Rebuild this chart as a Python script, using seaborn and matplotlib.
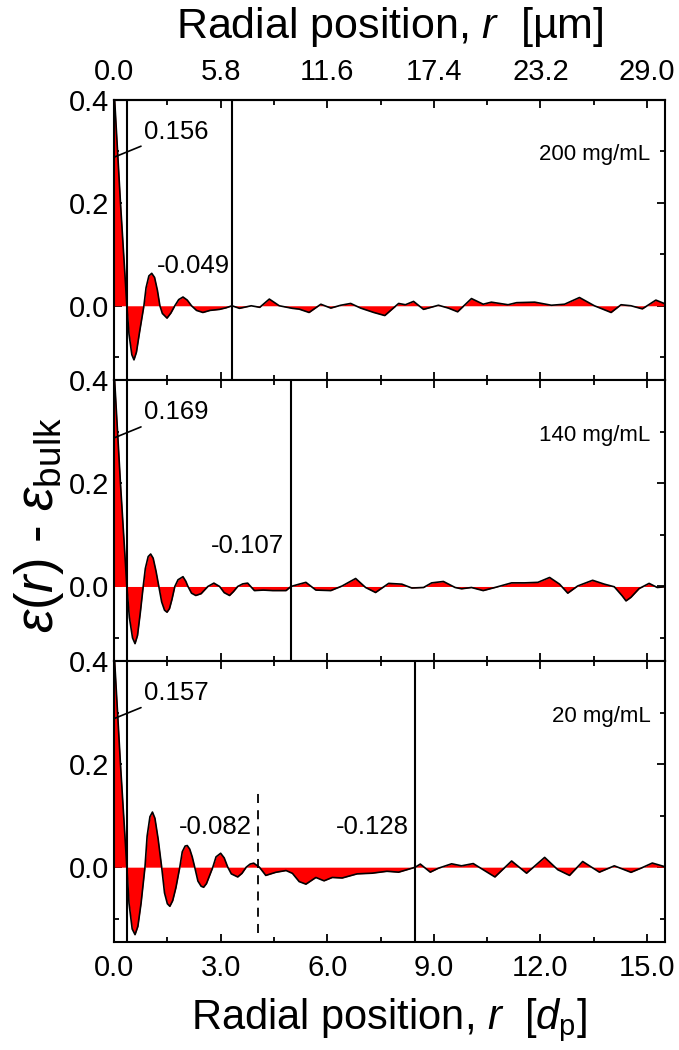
import numpy as np
import pandas as pd
import matplotlib
matplotlib.use('Agg')
import matplotlib.pyplot as plt
import seaborn as sb

# datos (r en d_p, eps(r) - eps_bulk)
x_200 = [0, 0.18, 0.36, 0.42, 0.50, 0.56, 0.63, 0.72, 0.84, 0.90, 0.98, 1.06, 1.14, 1.22, 1.29,
         1.36, 1.49, 1.60, 1.71, 1.82, 1.94, 2.06, 2.18, 2.32, 2.50, 2.70, 2.97, 3.15, 3.32,
         3.53, 3.86, 4.10, 4.37, 4.65, 5.02, 5.21, 5.49, 5.82, 6.10, 6.38, 6.66, 6.94, 7.31,
         7.62, 8.01, 8.20, 8.43, 8.71, 9.13, 9.41, 9.67, 10.06, 10.39, 10.62, 11.09, 11.33,
         11.84, 12.31, 12.68, 13.10, 13.52, 13.99, 14.27, 14.55, 14.87, 15.25, 15.5]
y_200 = [0.42, 0.20, 0.0, -0.055, -0.095, -0.105, -0.09, -0.05, 0.0, 0.035, 0.058, 0.063, 0.055,
         0.03, 0.0, -0.015, -0.024, -0.014, 0.0, 0.012, 0.017, 0.011, 0.0, -0.009, -0.013,
         -0.009, -0.007, -0.004, 0.0, -0.005, 0.0, -0.003, 0.013, 0.0, -0.005, -0.0065, -0.013,
         0.003, -0.0045, 0.001, 0.0045, -0.0045, -0.013, -0.019, 0.0045, 0.002, 0.0085, -0.007,
         0.001, -0.0045, -0.0117, 0.014, 0.003, 0.007, 0.002, 0.006, 0.007, 0.001, 0.003, 0.016,
         0.0, -0.013, 0.002, 0.0, -0.006, 0.011, 0.004]

x_140 = [0, 0.18, 0.36, 0.43, 0.52, 0.59, 0.66, 0.74, 0.82, 0.88, 0.96, 1.03, 1.10, 1.18, 1.26,
         1.34, 1.42, 1.49, 1.56, 1.63, 1.71, 1.80, 1.94, 2.02, 2.08, 2.18, 2.30, 2.45, 2.64,
         2.81, 2.97, 3.10, 3.25, 3.36, 3.48, 3.62, 3.76, 3.95, 4.20, 4.46, 4.84, 4.98, 5.21,
         5.40, 5.68, 6.10, 6.42, 6.80, 7.08, 7.36, 7.73, 8.10, 8.38, 8.71, 8.94, 9.27, 9.60,
         9.78, 10.06, 10.39, 10.72, 11.19, 11.56, 11.93, 12.26, 12.54, 12.77, 13.05, 13.47,
         13.80, 14.08, 14.30, 14.41, 14.55, 14.78, 15.06, 15.29, 15.5]
y_140 = [0.42, 0.20, 0.0, -0.06, -0.10, -0.111, -0.095, -0.05, 0.0, 0.035, 0.058, 0.063, 0.055,
         0.03, 0.0, -0.03, -0.046, -0.050, -0.043, -0.025, 0.0, 0.013, 0.019, 0.01, 0.0, -0.013,
         -0.0175, -0.014, 0.0, 0.0065, 0.0, -0.012, -0.0175, -0.01, 0.0, 0.005, 0.0065, -0.008,
         -0.007, -0.008, -0.008, 0.0, 0.0045, 0.008, -0.007, -0.008, 0.001, 0.0155, -0.002,
         -0.0117, 0.006, 0.0045, -0.003, -0.002, 0.007, 0.0097, -0.002, -0.0045, -0.002, -0.008,
         -0.002, 0.007, 0.007, 0.008, 0.0175, 0.0045, -0.013, 0.001, 0.012, 0.0045, -0.0006,
         -0.018, -0.028, -0.021, -0.004, 0.006, -0.002, -0.0006]

x_20 = [0, 0.18, 0.36, 0.42, 0.51, 0.59, 0.67, 0.76, 0.87, 0.93, 1.01, 1.08, 1.15, 1.24, 1.34,
        1.42, 1.50, 1.57, 1.65, 1.74, 1.85, 1.92, 2.00, 2.06, 2.13, 2.20, 2.27, 2.36, 2.45,
        2.52, 2.60, 2.69, 2.78, 2.87, 3.00, 3.10, 3.20, 3.30, 3.48, 3.60, 3.72, 3.83, 3.93,
        4.09, 4.27, 4.55, 4.84, 5.02, 5.21, 5.40, 5.68, 5.91, 6.14, 6.42, 6.84, 7.26, 7.68,
        8.01, 8.29, 8.48, 8.62, 8.90, 9.13, 9.50, 9.78, 10.11, 10.39, 10.72, 11.19, 11.61,
        12.12, 12.49, 12.82, 13.19, 13.66, 14.08, 14.55, 14.83, 15.15, 15.5]
y_20 = [0.42, 0.20, 0.0, -0.07, -0.12, -0.131, -0.115, -0.07, 0.0, 0.06, 0.098, 0.107, 0.095,
        0.055, 0.0, -0.05, -0.071, -0.076, -0.065, -0.04, 0.0, 0.03, 0.041, 0.042, 0.035, 0.02,
        0.0, -0.027, -0.037, -0.039, -0.032, -0.016, 0.0, 0.02, 0.027, 0.018, 0.0, -0.013,
        -0.019, -0.012, 0.0, 0.006, 0.0078, 0.0, -0.016, -0.01, -0.0065, -0.012, -0.028, -0.033,
        -0.020, -0.0265, -0.020, -0.021, -0.013, -0.0117, -0.008, -0.0097, -0.004, 0.0, 0.006,
        -0.0097, -0.002, 0.0065, 0.0026, 0.007, -0.005, -0.019, 0.012, -0.0117, 0.019, -0.005,
        -0.016, 0.011, -0.0097, 0.0026, -0.010, -0.002, 0.008, 0.001]

PANELES = ['200 mg/mL', '140 mg/mL', '20 mg/mL']
X = [x_200, x_140, x_20]
Y = [y_200, y_140, y_20]
VAL_PARED = ['0.156', '0.169', '0.157']
LINEAS = [[3.32], [4.98], [8.48]]
TXT_INT = [[('-0.049', 1.2, 'left')], [('-0.107', 3.75, 'center')],
           [('-0.082', 2.85, 'center'), ('-0.128', 7.26, 'center')]]

sb.set_style('ticks')
plt.rcParams['font.family'] = ['Liberation Sans', 'DejaVu Sans']
plt.rcParams['mathtext.fontset'] = 'custom'
plt.rcParams['mathtext.rm'] = 'Liberation Sans'
plt.rcParams['mathtext.it'] = 'Liberation Sans:italic'
plt.rcParams['axes.linewidth'] = 1.5
for k in ['text.color', 'axes.labelcolor', 'xtick.color', 'ytick.color', 'axes.edgecolor']:
    plt.rcParams[k] = 'black'

fig, axes = plt.subplots(3, 1, figsize=(6.79, 10.5), dpi=100, sharex=True)
fig.subplots_adjust(left=0.168, right=0.979, bottom=0.103, top=0.905, hspace=0)

for i, ax in enumerate(axes):
    d = pd.DataFrame({'r': X[i], 'eps': Y[i]})
    ax.fill_between(d['r'], d['eps'], 0, color='red', linewidth=0)
    sb.lineplot(data=d, x='r', y='eps', ax=ax, color='black', linewidth=1.2)
    ax.axvline(0.35, color='black', linewidth=1.5)
    for xl in LINEAS[i]:
        ax.axvline(xl, color='black', linewidth=1.5)
    if i == 2:
        ax.axvline(4.06, ymin=0.03, ymax=0.54, color='black', linewidth=1.3, linestyle=(0, (5, 4)))
    ax.set_xlim(0, 15.5)
    ax.set_ylim(-0.145, 0.4)
    ax.set_yticks([0.0, 0.2, 0.4])
    ax.set_yticks([-0.1, 0.1, 0.3], minor=True)
    ax.set_yticklabels(['0.0', '0.2', '0.4'])
    ax.set_xticks([0, 3, 6, 9, 12, 15])
    ax.set_xticks([1.5, 4.5, 7.5, 10.5, 13.5], minor=True)
    ax.tick_params(which='both', direction='in', top=True, right=True, labelsize=21, width=1.3)
    ax.tick_params(which='major', length=6)
    ax.tick_params(which='minor', length=3.5)
    ax.tick_params(axis='x', pad=9)
    ax.set_xlabel('')
    ax.set_ylabel('')
    ax.text(15.1, 0.293, PANELES[i], ha='right', va='center', fontsize=16)
    ax.annotate(VAL_PARED[i], xy=(0.02, 0.289), xytext=(0.85, 0.338), fontsize=18.5,
                va='center', ha='left',
                arrowprops=dict(arrowstyle='-', color='black', lw=1.2, shrinkA=0, shrinkB=0))
    for t, xt, al in TXT_INT[i]:
        ax.text(xt, 0.078, t, ha=al, va='center', fontsize=18.5)

axes[2].set_xticklabels(['0.0', '3.0', '6.0', '9.0', '12.0', '15.0'])
axes[2].set_xlabel(r'Radial position, $r$  [$d_{\mathrm{p}}$]', fontsize=30, labelpad=10)

top = axes[0].secondary_xaxis('top', functions=(lambda v: v * 29.0 / 15.0, lambda v: v * 15.0 / 29.0))
top.set_xticks([0.0, 5.8, 11.6, 17.4, 23.2, 29.0])
top.set_xticks([], minor=True)
top.set_xticklabels(['0.0', '5.8', '11.6', '17.4', '23.2', '29.0'])
top.tick_params(direction='in', length=0, labelsize=21, pad=10)
top.set_xlabel(r'Radial position, $r$  [µm]', fontsize=31, labelpad=14)

fig.text(0.058, 0.50, r'$\varepsilon(r)$ - $\varepsilon_{\mathrm{bulk}}$', rotation=90,
         ha='center', va='center', fontsize=38)

plt.savefig('out.png', dpi=100)
